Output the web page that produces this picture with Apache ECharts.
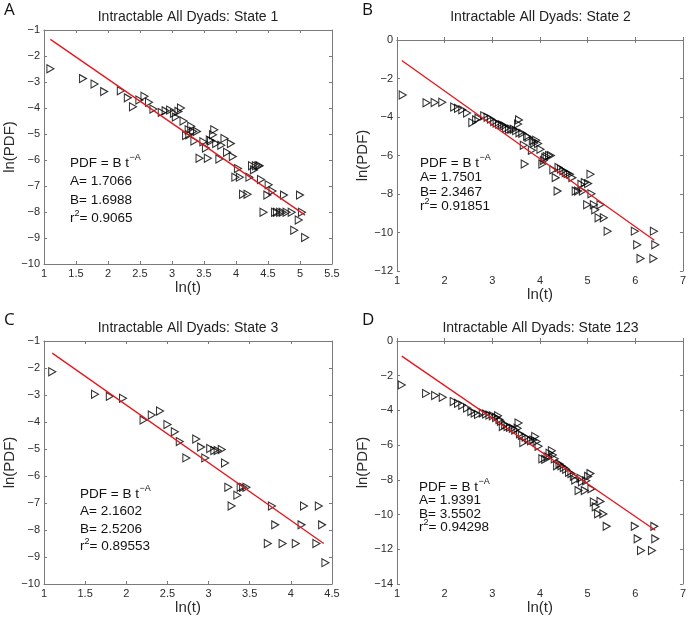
<!DOCTYPE html>
<html><head><meta charset="utf-8">
<script src="https://cdn.jsdelivr.net/npm/echarts@6/dist/echarts.min.js"></script>
<style>html,body{margin:0;padding:0;background:#fff}#c{width:689px;height:628px}</style>
</head><body><div id="c"></div>
<script>
// ---------- DATA ----------
const panelLetters = ['A', 'B', 'C', 'D'];
const panelTitles = ['Intractable All Dyads: State 1', 'Intractable All Dyads: State 2',
                     'Intractable All Dyads: State 3', 'Intractable All Dyads: State 123'];
const fitA = ['1.7066', '1.7501', '2.1602', '1.9391'];
const fitB = ['1.6988', '2.3467', '2.5206', '3.5502'];
const fitR2 = ['0.9065', '0.91851', '0.89553', '0.94298'];

const xTicksA = [1, 5.5, 0.5], yTicksA = [-10, -1, 1];
const xTicksB = [1, 7, 1],     yTicksB = [-12, 0, 2];
const xTicksC = [1, 4.5, 0.5], yTicksC = [-10, -1, 1];
const xTicksD = [1, 7, 1],     yTicksD = [-14, 0, 2];

const pointsA = [[1.10,-2.49],[1.61,-2.87],[1.79,-3.08],[1.94,-3.37],[2.20,-3.34],[2.31,-3.61],[2.39,-3.95],
 [2.49,-3.69],[2.57,-3.55],[2.64,-3.78],[2.71,-4.04],[2.84,-4.17],[2.90,-4.11],[2.97,-4.08],[3.03,-4.20],
 [3.06,-4.35],[3.10,-4.13],[3.14,-4.00],[3.18,-4.50],[3.22,-5.06],[3.26,-4.84],[3.30,-4.70],[3.33,-4.90],
 [3.39,-4.90],[3.35,-5.27],[3.27,-5.03],[3.43,-5.93],[3.56,-5.93],[3.53,-5.54],[3.49,-5.30],[3.59,-5.23],
 [3.61,-5.27],[3.64,-5.03],[3.66,-4.84],[3.69,-5.37],[3.74,-5.96],[3.77,-5.43],[3.82,-5.17],[3.86,-5.70],
 [3.92,-5.37],[3.95,-5.87],[4.03,-6.33],[3.99,-6.66],[4.06,-6.66],[4.11,-7.32],[4.18,-7.32],[4.21,-6.66],
 [4.25,-6.22],[4.28,-6.38],[4.31,-6.22],[4.35,-6.22],[4.37,-6.22],[4.39,-6.75],[4.49,-7.35],[4.51,-6.95],
 [4.57,-7.19],[4.43,-8.01],[4.61,-8.01],[4.64,-8.01],[4.69,-8.01],[4.73,-8.01],[4.79,-8.01],[4.87,-8.01],
 [4.75,-7.35],[4.91,-8.70],[4.98,-8.31],[5.00,-7.35],[5.03,-8.01],[5.08,-8.98]];
const pointsB = [[1.12,-2.86],[1.62,-3.26],[1.79,-3.25],[1.95,-3.23],[2.20,-3.48],[2.28,-3.55],[2.37,-3.62],
 [2.47,-3.79],[2.58,-4.29],[2.66,-4.15],[2.71,-4.06],[2.83,-3.94],[2.90,-4.01],[2.97,-4.11],[3.04,-4.24],
 [3.09,-4.32],[3.14,-4.36],[3.20,-4.41],[3.25,-4.46],[3.29,-4.59],[3.35,-4.64],[3.40,-4.64],[3.45,-4.64],
 [3.50,-4.71],[3.56,-4.15],[3.54,-4.36],[3.57,-4.82],[3.63,-4.85],[3.66,-5.47],[3.68,-6.44],[3.73,-5.00],
 [3.76,-5.06],[3.83,-5.73],[3.85,-5.24],[3.88,-5.35],[3.92,-5.21],[3.96,-5.38],[4.01,-5.68],[4.05,-6.44],
 [4.08,-6.26],[4.11,-6.12],[4.14,-6.05],[4.19,-6.00],[4.23,-6.00],[4.28,-6.74],[4.33,-7.15],[4.37,-7.85],
 [4.39,-6.62],[4.44,-6.71],[4.49,-6.79],[4.54,-6.88],[4.58,-6.94],[4.63,-6.97],[4.68,-7.15],[4.75,-7.85],
 [4.80,-7.85],[4.87,-7.50],[4.90,-7.85],[4.94,-7.41],[4.99,-8.56],[5.01,-7.46],[5.06,-6.97],[5.08,-7.99],
 [5.13,-8.56],[5.16,-8.82],[5.23,-9.23],[5.27,-8.56],[5.34,-9.23],[5.42,-9.93],[5.99,-9.93],[6.04,-10.64],
 [6.11,-11.35],[6.39,-9.93],[6.42,-10.64],[6.38,-11.35]];
const pointsC = [[1.10,-2.14],[1.62,-2.97],[1.80,-3.05],[1.96,-3.12],[2.21,-3.93],[2.31,-3.74],[2.41,-3.59],
 [2.50,-4.09],[2.59,-4.36],[2.65,-4.72],[2.73,-5.33],[2.85,-4.63],[2.91,-4.93],[2.96,-5.33],[3.02,-4.98],
 [3.07,-5.06],[3.11,-5.06],[3.16,-5.02],[3.20,-5.52],[3.24,-6.42],[3.28,-7.11],[3.35,-6.71],[3.39,-6.42],
 [3.42,-6.42],[3.46,-6.42],[3.77,-7.11],[3.81,-7.81],[3.72,-8.50],[3.90,-8.50],[4.06,-8.50],[4.13,-7.81],
 [4.16,-7.11],[4.31,-8.50],[4.34,-7.11],[4.38,-7.81],[4.42,-9.21]];
const pointsD = [[1.10,-2.53],[1.61,-3.02],[1.80,-3.14],[1.96,-3.24],[2.19,-3.49],[2.28,-3.59],[2.37,-3.70],
 [2.47,-3.86],[2.56,-4.07],[2.63,-4.15],[2.70,-4.23],[2.80,-4.15],[2.87,-4.21],[2.94,-4.27],[3.01,-4.31],
 [3.08,-4.41],[3.12,-4.31],[3.15,-4.52],[3.18,-4.62],[3.22,-4.93],[3.27,-4.83],[3.32,-4.93],[3.37,-4.97],
 [3.43,-5.03],[3.48,-5.13],[3.53,-5.03],[3.55,-4.72],[3.58,-5.34],[3.62,-5.44],[3.65,-5.85],[3.70,-5.54],
 [3.76,-5.65],[3.81,-5.75],[3.86,-5.71],[3.90,-5.50],[3.93,-5.79],[3.97,-6.06],[4.05,-6.78],[4.11,-6.82],
 [4.16,-6.67],[4.20,-6.47],[4.25,-6.32],[4.27,-6.57],[4.31,-6.78],[4.36,-7.19],[4.41,-7.08],[4.45,-7.19],
 [4.50,-7.29],[4.55,-7.39],[4.61,-7.56],[4.66,-7.64],[4.71,-7.80],[4.74,-8.01],[4.81,-8.62],[4.85,-7.91],
 [4.88,-8.11],[4.94,-8.62],[4.97,-8.05],[5.01,-7.80],[5.06,-7.64],[5.08,-8.52],[5.13,-9.28],[5.17,-9.55],
 [5.22,-9.96],[5.27,-9.24],[5.33,-9.96],[5.40,-10.68],[5.99,-10.68],[6.05,-11.40],[6.12,-12.07],[6.40,-10.68],
 [6.42,-11.40],[6.35,-12.07]];

const fitLineA = [[1.10,-1.36],[5.08,-8.12]];
const fitLineB = [[1.10,-1.06],[6.40,-10.40]];
const fitLineC = [[1.10,-1.45],[4.40,-8.50]];
const fitLineD = [[1.10,-0.87],[6.42,-10.90]];

// ---------- LAYOUT ----------
const grids = [
  {left: 44, top: 30, width: 288, height: 234},
  {left: 397, top: 40, width: 287, height: 231},
  {left: 44, top: 341, width: 288, height: 243},
  {left: 397, top: 341, width: 287, height: 243}
];
const xTicks = [xTicksA, xTicksB, xTicksC, xTicksD];
const yTicks = [yTicksA, yTicksB, yTicksC, yTicksD];
const points = [pointsA, pointsB, pointsC, pointsD];
const lines = [fitLineA, fitLineB, fitLineC, fitLineD];
const letterPos = [[4, 10], [362, 10], [4, 320], [362, 320]];
const titleY = [17, 17, 328, 328];
const textPos = [
  {x: 70, y: [163, 181.5, 200, 218.5]},
  {x: 420, y: [163, 177.5, 192, 206.5]},
  {x: 80, y: [494, 511.5, 529, 546.5]},
  {x: 419, y: [487, 500.5, 514, 527.5]}
];

const FONT = '"Liberation Sans", Arial, Helvetica, sans-serif';
const AX = '#7a7a7a';
const LBL = '#2b2b2b';
const minus = v => String(v).replace('-', '\u2212');

const mctx = document.createElement('canvas').getContext('2d');
function tw(t, size) { mctx.font = size + 'px ' + FONT; return mctx.measureText(t).width; }

const xAxes = [], yAxes = [], series = [], graphics = [];
grids.forEach((g, i) => {
  const [xmin, xmax, xint] = xTicks[i];
  const [ymin, ymax, yint] = yTicks[i];
  const common = {
    axisLine: {show: true, lineStyle: {color: AX, width: 1}},
    axisTick: {show: true, inside: true, length: 3, lineStyle: {color: AX}},
    splitLine: {show: false}
  };
  xAxes.push(Object.assign({}, common, {
    type: 'value', gridIndex: i, position: 'bottom', min: xmin, max: xmax, interval: xint,
    name: 'ln(t)', nameLocation: 'middle', nameGap: 15,
    nameTextStyle: {fontFamily: FONT, fontSize: 15, color: LBL},
    axisLabel: {show: true, margin: 4, fontFamily: FONT, fontSize: 11, color: LBL, formatter: v => minus(v)}
  }));
  xAxes.push(Object.assign({}, common, {
    type: 'value', gridIndex: i, position: 'top', min: xmin, max: xmax, interval: xint,
    axisLabel: {show: false}
  }));
  yAxes.push(Object.assign({}, common, {
    type: 'value', gridIndex: i, position: 'left', min: ymin, max: ymax, interval: yint,
    name: 'ln(PDF)', nameLocation: 'middle', nameGap: 21,
    nameTextStyle: {fontFamily: FONT, fontSize: 15, color: LBL},
    axisLabel: {show: true, margin: 4, fontFamily: FONT, fontSize: 11, color: LBL, formatter: v => minus(v)}
  }));
  yAxes.push(Object.assign({}, common, {
    type: 'value', gridIndex: i, position: 'right', min: ymin, max: ymax, interval: yint,
    axisLabel: {show: false}
  }));
  series.push({
    type: 'scatter', xAxisIndex: 2 * i, yAxisIndex: 2 * i, data: points[i],
    symbol: 'path://M0,0L10,5L0,10Z', symbolSize: [7, 8],
    itemStyle: {color: 'rgba(0,0,0,0)', borderColor: '#000', borderWidth: 1.1},
    silent: true, z: 3
  });
  series.push({
    type: 'line', xAxisIndex: 2 * i, yAxisIndex: 2 * i, data: lines[i],
    showSymbol: false, symbol: 'none', lineStyle: {color: '#e8141a', width: 1.3},
    silent: true, z: 4
  });
  graphics.push({type: 'text', x: g.left + g.width / 2, y: titleY[i],
    style: {text: panelTitles[i], fontFamily: FONT, fontSize: 14, fill: '#222', align: 'center', verticalAlign: 'middle'}});
  graphics.push({type: 'text', x: letterPos[i][0], y: letterPos[i][1],
    style: {text: panelLetters[i], fontFamily: '"Open Sans", sans-serif', fontSize: 17, fill: '#111', align: 'left', verticalAlign: 'middle'}});
  const tp = textPos[i], fs = 13.5, ss = 9;
  const t0 = 'PDF = B t';
  graphics.push({type: 'text', x: tp.x, y: tp.y[0], style: {text: t0, fontFamily: FONT, fontSize: fs, fill: '#111', verticalAlign: 'middle'}});
  graphics.push({type: 'text', x: tp.x + tw(t0, fs) + 0.5, y: tp.y[0] - 5, style: {text: '\u2212A', fontFamily: FONT, fontSize: ss, fill: '#111', verticalAlign: 'middle'}});
  graphics.push({type: 'text', x: tp.x, y: tp.y[1], style: {text: 'A= ' + fitA[i], fontFamily: FONT, fontSize: fs, fill: '#111', verticalAlign: 'middle'}});
  graphics.push({type: 'text', x: tp.x, y: tp.y[2], style: {text: 'B= ' + fitB[i], fontFamily: FONT, fontSize: fs, fill: '#111', verticalAlign: 'middle'}});
  const rw = tw('r', fs);
  graphics.push({type: 'text', x: tp.x, y: tp.y[3], style: {text: 'r', fontFamily: FONT, fontSize: fs, fill: '#111', verticalAlign: 'middle'}});
  graphics.push({type: 'text', x: tp.x + rw, y: tp.y[3] - 5, style: {text: '2', fontFamily: FONT, fontSize: ss, fill: '#111', verticalAlign: 'middle'}});
  graphics.push({type: 'text', x: tp.x + rw + tw('2', ss), y: tp.y[3], style: {text: '= ' + fitR2[i], fontFamily: FONT, fontSize: fs, fill: '#111', verticalAlign: 'middle'}});
});

const chart = echarts.init(document.getElementById('c'), null, {renderer: 'canvas'});
chart.setOption({
  animation: false,
  backgroundColor: '#fff',
  grid: grids.map(g => Object.assign({containLabel: false}, g)),
  xAxis: xAxes,
  yAxis: yAxes,
  series: series,
  graphic: graphics
});
</script>
</body></html>
